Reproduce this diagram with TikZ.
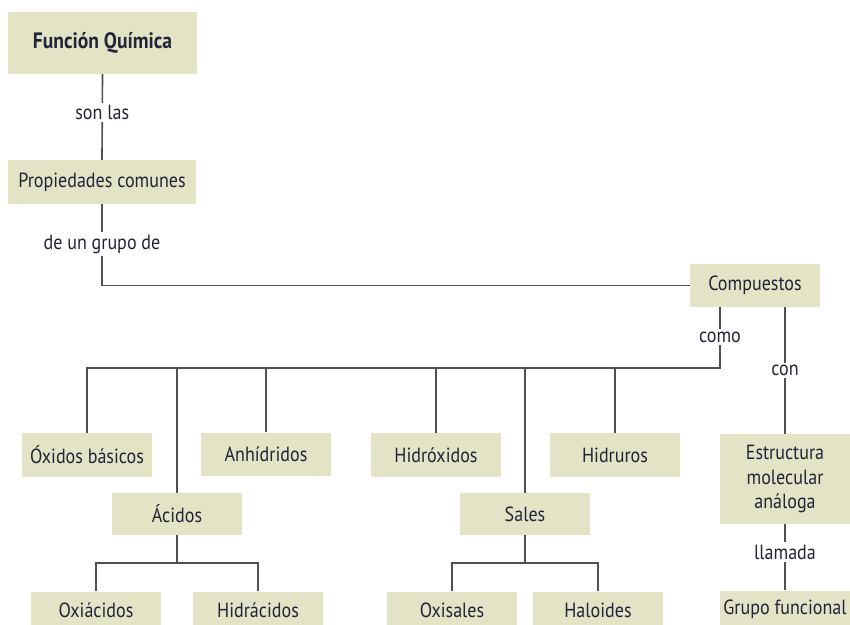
\documentclass[tikz,border=0pt]{standalone}
\usepackage{fontspec}
\setmainfont[FakeStretch=0.88]{PT Sans}
\usetikzlibrary{positioning,calc}
\definecolor{boxfill}{RGB}{227,227,197}
\definecolor{inktext}{RGB}{34,36,58}
\definecolor{linkgrey}{RGB}{80,80,80}
\tikzset{
  cbox/.style={fill=boxfill,draw=none,inner sep=2pt,align=center,text=inktext,font=\fontsize{17.5}{21}\selectfont,minimum width=39mm,minimum height=13.2mm},
  lowbox/.style={cbox,minimum height=11mm},
  titlebox/.style={cbox,font=\fontsize{19}{21}\selectfont\bfseries,minimum width=56.4mm,minimum height=18.6mm},
  link/.style={draw=linkgrey,line width=1.4pt},
  lab/.style={fill=white,text=inktext,inner sep=2pt,font=\fontsize{17.5}{21}\selectfont}
}

\begin{document}
\begin{tikzpicture}[x=0.3mm,y=-0.3mm]
  \useasboundingbox (0,0) rectangle (850,625);
  % upper chain
  \node[titlebox] (func) at (102.5,43) {Función Química};
  \node[cbox,minimum width=56.1mm] (prop) at (102,182) {Propiedades comunes};
  \node[cbox,minimum height=12.9mm] (comp) at (755,285.5) {Compuestos};
  % first row
  \node[cbox] (oxb) at (87,455) {Óxidos básicos};
  \node[cbox,minimum height=12.9mm] (anh) at (266,454) {Anhídridos};
  \node[cbox] (hidrox) at (436,455) {Hidróxidos};
  \node[cbox] (hidru) at (615,455) {Hidruros};
  \node[cbox,minimum height=12.6mm] (acid) at (177,514) {Ácidos};
  \node[cbox,minimum height=12.6mm] (sales) at (525,514) {Sales};
  \node[cbox,minimum height=27mm] (estr) at (785,479) {Estructura\\molecular\\análoga};
  % bottom row, cut by the page edge
  \node[lowbox] (oxiac) at (96,610) {Oxiácidos};
  \node[lowbox] (hidrac) at (258,610) {Hidrácidos};
  \node[lowbox] (oxis) at (452,610) {Oxisales};
  \node[lowbox] (halo) at (598,610) {Haloides};
  \node[lowbox] (grupo) at (785,609) {Grupo funcional};

  \draw[link] (func.south) -- (prop.north) node[lab,pos=.45]{son las};
  \draw[link] (prop.south) |- (comp.west);
  \node[lab] at (102,244) {de un grupo de};
  % como bus
  \coordinate (como) at (720,368);
  \draw[link] (comp.south -| como) -- (como) -- (como -| oxb.north) -- (oxb.north);
  \foreach \n in {anh,hidrox,hidru,acid,sales}
    \draw[link] (\n.north) -- (\n.north |- como);
  \node[lab] at (720,337) {como};
  \draw[link] (comp.south -| estr.north) -- (estr.north) node[lab,midway]{con};
  \draw[link] (estr.south) -- (grupo.north) node[lab,pos=.42]{llamada};
  % acid and salt branches
  \draw[link] (acid.south) -- ++(0,28) coordinate (ab) -| (oxiac.north);
  \draw[link] (ab) -| (hidrac.north);
  \draw[link] (sales.south) -- ++(0,28) coordinate (sb) -| (oxis.north);
  \draw[link] (sb) -| (halo.north);
\end{tikzpicture}
\end{document}
